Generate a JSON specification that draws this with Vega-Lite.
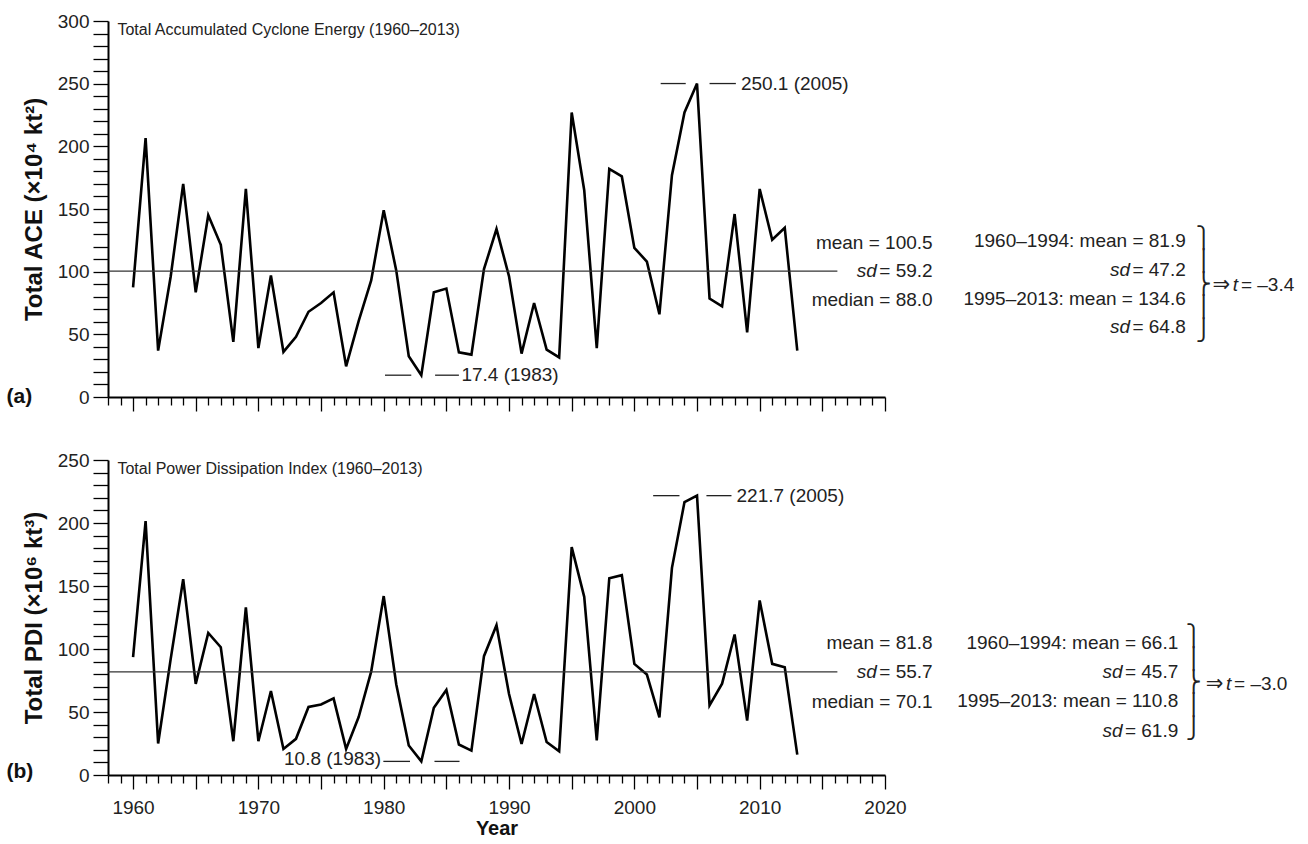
{
  "$schema": "https://vega.github.io/schema/vega-lite/v6.json",
  "padding": {"left": 6, "top": 12, "right": 4, "bottom": 4},
  "background": "white",
  "config": {
    "font": "'Liberation Sans', Arial, sans-serif",
    "view": {"stroke": null},
    "text": {"color": "#222", "fontSize": 19, "baseline": "middle"},
    "axis": {
      "domainColor": "black", "domainWidth": 2, "tickColor": "black", "tickWidth": 1.3,
      "labelColor": "#222", "labelFontSize": 19, "labelFont": "'Liberation Sans', Arial, sans-serif",
      "titleColor": "#111", "titleFont": "'Liberation Sans', Arial, sans-serif", "titleFontSize": 24, "titleFontWeight": "bold",
      "grid": false, "labelOverlap": false, "labelFlush": false, "labelBound": false, "tickCount": 200
    }
  },
  "datasets": {
    "ace": [
      {"year": 1960, "v": 87.5}, {"year": 1961, "v": 206.5}, {"year": 1962, "v": 37}, {"year": 1963, "v": 96},
      {"year": 1964, "v": 170}, {"year": 1965, "v": 83.5}, {"year": 1966, "v": 145}, {"year": 1967, "v": 121.5},
      {"year": 1968, "v": 44}, {"year": 1969, "v": 166}, {"year": 1970, "v": 39}, {"year": 1971, "v": 97},
      {"year": 1972, "v": 36}, {"year": 1973, "v": 48}, {"year": 1974, "v": 68}, {"year": 1975, "v": 75},
      {"year": 1976, "v": 83.5}, {"year": 1977, "v": 24.5}, {"year": 1978, "v": 60.5}, {"year": 1979, "v": 93},
      {"year": 1980, "v": 149}, {"year": 1981, "v": 101}, {"year": 1982, "v": 32.5}, {"year": 1983, "v": 17.4},
      {"year": 1984, "v": 83.5}, {"year": 1985, "v": 86.5}, {"year": 1986, "v": 35.6}, {"year": 1987, "v": 33.8},
      {"year": 1988, "v": 102}, {"year": 1989, "v": 134}, {"year": 1990, "v": 96.3}, {"year": 1991, "v": 34.6},
      {"year": 1992, "v": 75}, {"year": 1993, "v": 37.8}, {"year": 1994, "v": 31.6}, {"year": 1995, "v": 227},
      {"year": 1996, "v": 165}, {"year": 1997, "v": 39}, {"year": 1998, "v": 182}, {"year": 1999, "v": 176},
      {"year": 2000, "v": 119}, {"year": 2001, "v": 108}, {"year": 2002, "v": 66}, {"year": 2003, "v": 177},
      {"year": 2004, "v": 227}, {"year": 2005, "v": 250.1}, {"year": 2006, "v": 78.5}, {"year": 2007, "v": 72.3},
      {"year": 2008, "v": 146}, {"year": 2009, "v": 51.6}, {"year": 2010, "v": 166}, {"year": 2011, "v": 125.5},
      {"year": 2012, "v": 135}, {"year": 2013, "v": 37}
    ],
    "pdi": [
      {"year": 1960, "v": 93.5}, {"year": 1961, "v": 201.5}, {"year": 1962, "v": 25}, {"year": 1963, "v": 92},
      {"year": 1964, "v": 155.4}, {"year": 1965, "v": 72.3}, {"year": 1966, "v": 112.8}, {"year": 1967, "v": 101.4},
      {"year": 1968, "v": 26.8}, {"year": 1969, "v": 133}, {"year": 1970, "v": 26.8}, {"year": 1971, "v": 66.7},
      {"year": 1972, "v": 20.7}, {"year": 1973, "v": 28.7}, {"year": 1974, "v": 54}, {"year": 1975, "v": 56},
      {"year": 1976, "v": 60.8}, {"year": 1977, "v": 20.7}, {"year": 1978, "v": 46}, {"year": 1979, "v": 82},
      {"year": 1980, "v": 142}, {"year": 1981, "v": 72}, {"year": 1982, "v": 23.4}, {"year": 1983, "v": 10.8},
      {"year": 1984, "v": 53.4}, {"year": 1985, "v": 67.5}, {"year": 1986, "v": 24.2}, {"year": 1987, "v": 19.4},
      {"year": 1988, "v": 94.3}, {"year": 1989, "v": 118.9}, {"year": 1990, "v": 64.3}, {"year": 1991, "v": 24.6},
      {"year": 1992, "v": 64.3}, {"year": 1993, "v": 26.2}, {"year": 1994, "v": 18.8}, {"year": 1995, "v": 180.8},
      {"year": 1996, "v": 141.4}, {"year": 1997, "v": 27.5}, {"year": 1998, "v": 156.2}, {"year": 1999, "v": 158.6},
      {"year": 2000, "v": 88.2}, {"year": 2001, "v": 79.7}, {"year": 2002, "v": 45.8}, {"year": 2003, "v": 164.4},
      {"year": 2004, "v": 216.6}, {"year": 2005, "v": 221.7}, {"year": 2006, "v": 55.3}, {"year": 2007, "v": 72.5},
      {"year": 2008, "v": 111.5}, {"year": 2009, "v": 43.2}, {"year": 2010, "v": 138.5}, {"year": 2011, "v": 88.2},
      {"year": 2012, "v": 85.5}, {"year": 2013, "v": 16.2}
    ],
    "one": [{}]
  },
  "spacing": 39,
  "vconcat": [
    {
      "width": 777, "height": 376,
      "layer": [
        {
          "data": {"name": "ace"},
          "mark": {"type": "line", "color": "black", "strokeWidth": 2.6, "strokeJoin": "miter"},
          "encoding": {
            "x": {"field": "year", "type": "quantitative", "scale": {"domain": [1958, 2020], "nice": false, "zero": false},
              "axis": {"values": [1958,1959,1960,1961,1962,1963,1964,1965,1966,1967,1968,1969,1970,1971,1972,1973,1974,1975,1976,1977,1978,1979,1980,1981,1982,1983,1984,1985,1986,1987,1988,1989,1990,1991,1992,1993,1994,1995,1996,1997,1998,1999,2000,2001,2002,2003,2004,2005,2006,2007,2008,2009,2010,2011,2012,2013,2014,2015,2016,2017,2018,2019,2020],
                "tickCount": 200, "labels": false, "title": null,
                "tickSize": {"condition": {"test": "datum.value % 5 === 0", "value": 14}, "value": 8}}},
            "y": {"field": "v", "type": "quantitative", "scale": {"domain": [0, 300], "nice": false},
              "axis": {"values": [0,10,20,30,40,50,60,70,80,90,100,110,120,130,140,150,160,170,180,190,200,210,220,230,240,250,260,270,280,290,300],
                "tickCount": 200, "labelExpr": "datum.value % 50 === 0 ? datum.label : ''", "tickSize": 15, "labelPadding": 4,
                "title": "Total ACE (×10⁴ kt²)", "titlePadding": 11}}
          }
        },
        {"data": {"name": "one"}, "mark": {"type": "rule", "color": "#333", "strokeWidth": 1.3},
          "encoding": {"x": {"datum": 1958}, "x2": {"datum": 2016.2}, "y": {"datum": 100.5}}},
        {"data": {"name": "one"}, "mark": {"type": "rule", "color": "#222", "strokeWidth": 1.3},
          "encoding": {"x": {"datum": 2002.1}, "x2": {"datum": 2004.1}, "y": {"datum": 250.1}}},
        {"data": {"name": "one"}, "mark": {"type": "rule", "color": "#222", "strokeWidth": 1.3},
          "encoding": {"x": {"datum": 2006.0}, "x2": {"datum": 2008.1}, "y": {"datum": 250.1}}},
        {"data": {"name": "one"}, "mark": {"type": "rule", "color": "#222", "strokeWidth": 1.3},
          "encoding": {"x": {"datum": 1980.1}, "x2": {"datum": 1982.2}, "y": {"datum": 17.4}}},
        {"data": {"name": "one"}, "mark": {"type": "rule", "color": "#222", "strokeWidth": 1.3},
          "encoding": {"x": {"datum": 1984.1}, "x2": {"datum": 1986.0}, "y": {"datum": 17.4}}},
        {"data": {"name": "one"}, "mark": {"type": "text", "text": "250.1 (2005)", "align": "left"},
          "encoding": {"x": {"datum": 2008.5}, "y": {"datum": 250.1}}},
        {"data": {"name": "one"}, "mark": {"type": "text", "text": "17.4 (1983)", "align": "left"},
          "encoding": {"x": {"datum": 1986.2}, "y": {"datum": 17.4}}},
        {"data": {"name": "one"}, "mark": {"type": "text", "text": "Total Accumulated Cyclone Energy (1960–2013)", "align": "left", "fontSize": 16},
          "encoding": {"x": {"datum": 1958.75}, "y": {"datum": 293.2}}},
        {"data": {"name": "one"}, "mark": {"type": "text", "text": "(a)", "align": "left", "fontSize": 21, "fontWeight": "bold", "color": "#111"},
          "encoding": {"x": {"datum": 1949.9}, "y": {"datum": 0}}},
        {"data": {"name": "one"}, "mark": {"type": "text", "text": "mean = 100.5", "align": "right"},
          "encoding": {"x": {"datum": 2023.8}, "y": {"datum": 123.2}}},
        {"data": {"name": "one"}, "mark": {"type": "text", "text": "= 59.2", "align": "right"},
          "encoding": {"x": {"datum": 2023.8}, "y": {"datum": 100.8}}},
        {"data": {"name": "one"}, "mark": {"type": "text", "text": "sd", "align": "right", "fontStyle": "italic"},
          "encoding": {"x": {"datum": 2019.35}, "y": {"datum": 100.8}}},
        {"data": {"name": "one"}, "mark": {"type": "text", "text": "median = 88.0", "align": "right"},
          "encoding": {"x": {"datum": 2023.8}, "y": {"datum": 77.7}}},
        {"data": {"name": "one"}, "mark": {"type": "text", "text": "1960–1994: mean = 81.9", "align": "right"},
          "encoding": {"x": {"datum": 2044.0}, "y": {"datum": 124.5}}},
        {"data": {"name": "one"}, "mark": {"type": "text", "text": "= 47.2", "align": "right"},
          "encoding": {"x": {"datum": 2044.0}, "y": {"datum": 101.5}}},
        {"data": {"name": "one"}, "mark": {"type": "text", "text": "sd", "align": "right", "fontStyle": "italic"},
          "encoding": {"x": {"datum": 2039.55}, "y": {"datum": 101.5}}},
        {"data": {"name": "one"}, "mark": {"type": "text", "text": "1995–2013: mean = 134.6", "align": "right"},
          "encoding": {"x": {"datum": 2044.0}, "y": {"datum": 78.5}}},
        {"data": {"name": "one"}, "mark": {"type": "text", "text": "= 64.8", "align": "right"},
          "encoding": {"x": {"datum": 2044.0}, "y": {"datum": 55.5}}},
        {"data": {"name": "one"}, "mark": {"type": "text", "text": "sd", "align": "right", "fontStyle": "italic"},
          "encoding": {"x": {"datum": 2039.55}, "y": {"datum": 55.5}}},
        {"data": {"name": "one"}, "mark": {"type": "text", "text": ["⎫", "⎪", "⎬", "⎪", "⎭"], "align": "left", "font": "DejaVu Sans", "fontSize": 21, "lineHeight": 23},
          "encoding": {"x": {"datum": 2044.8}, "y": {"datum": 126.0}}},
        {"data": {"name": "one"}, "mark": {"type": "text", "text": "⇒", "align": "left", "font": "DejaVu Sans", "fontSize": 21},
          "encoding": {"x": {"datum": 2046.14}, "y": {"datum": 89.5}}},
        {"data": {"name": "one"}, "mark": {"type": "text", "text": "t", "align": "left", "fontStyle": "italic"},
          "encoding": {"x": {"datum": 2047.74}, "y": {"datum": 89.5}}},
        {"data": {"name": "one"}, "mark": {"type": "text", "text": "= –3.4", "align": "left"},
          "encoding": {"x": {"datum": 2048.4}, "y": {"datum": 89.5}}}
      ]
    },
    {
      "width": 777, "height": 315,
      "layer": [
        {
          "data": {"name": "pdi"},
          "mark": {"type": "line", "color": "black", "strokeWidth": 2.6, "strokeJoin": "miter"},
          "encoding": {
            "x": {"field": "year", "type": "quantitative", "scale": {"domain": [1958, 2020], "nice": false, "zero": false},
              "axis": {"values": [1958,1959,1960,1961,1962,1963,1964,1965,1966,1967,1968,1969,1970,1971,1972,1973,1974,1975,1976,1977,1978,1979,1980,1981,1982,1983,1984,1985,1986,1987,1988,1989,1990,1991,1992,1993,1994,1995,1996,1997,1998,1999,2000,2001,2002,2003,2004,2005,2006,2007,2008,2009,2010,2011,2012,2013,2014,2015,2016,2017,2018,2019,2020],
                "tickCount": 200, "labelExpr": "datum.value % 10 === 0 ? datum.label : ''", "format": "d", "labelPadding": 9,
                "title": "Year", "titlePadding": 1, "titleFontSize": 20,
                "tickSize": {"condition": {"test": "datum.value % 5 === 0", "value": 14}, "value": 8}}},
            "y": {"field": "v", "type": "quantitative", "scale": {"domain": [0, 250], "nice": false},
              "axis": {"values": [0,10,20,30,40,50,60,70,80,90,100,110,120,130,140,150,160,170,180,190,200,210,220,230,240,250],
                "tickCount": 200, "labelExpr": "datum.value % 50 === 0 ? datum.label : ''", "tickSize": 15, "labelPadding": 4,
                "title": "Total PDI (×10⁶ kt³)", "titlePadding": 11}}
          }
        },
        {"data": {"name": "one"}, "mark": {"type": "rule", "color": "#333", "strokeWidth": 1.3},
          "encoding": {"x": {"datum": 1958}, "x2": {"datum": 2016.2}, "y": {"datum": 81.8}}},
        {"data": {"name": "one"}, "mark": {"type": "rule", "color": "#222", "strokeWidth": 1.3},
          "encoding": {"x": {"datum": 2001.5}, "x2": {"datum": 2003.6}, "y": {"datum": 221.7}}},
        {"data": {"name": "one"}, "mark": {"type": "rule", "color": "#222", "strokeWidth": 1.3},
          "encoding": {"x": {"datum": 2005.75}, "x2": {"datum": 2007.75}, "y": {"datum": 221.7}}},
        {"data": {"name": "one"}, "mark": {"type": "rule", "color": "#222", "strokeWidth": 1.3},
          "encoding": {"x": {"datum": 1979.97}, "x2": {"datum": 1982.1}, "y": {"datum": 10.8}}},
        {"data": {"name": "one"}, "mark": {"type": "rule", "color": "#222", "strokeWidth": 1.3},
          "encoding": {"x": {"datum": 1984.05}, "x2": {"datum": 1986.05}, "y": {"datum": 10.8}}},
        {"data": {"name": "one"}, "mark": {"type": "text", "text": "221.7 (2005)", "align": "left"},
          "encoding": {"x": {"datum": 2008.15}, "y": {"datum": 221.7}}},
        {"data": {"name": "one"}, "mark": {"type": "text", "text": "10.8 (1983)", "align": "right"},
          "encoding": {"x": {"datum": 1979.8}, "y": {"datum": 12.5}}},
        {"data": {"name": "one"}, "mark": {"type": "text", "text": "Total Power Dissipation Index (1960–2013)", "align": "left", "fontSize": 16},
          "encoding": {"x": {"datum": 1958.75}, "y": {"datum": 242.5}}},
        {"data": {"name": "one"}, "mark": {"type": "text", "text": "(b)", "align": "left", "fontSize": 21, "fontWeight": "bold", "color": "#111"},
          "encoding": {"x": {"datum": 1949.9}, "y": {"datum": 2}}},
        {"data": {"name": "one"}, "mark": {"type": "text", "text": "mean = 81.8", "align": "right"},
          "encoding": {"x": {"datum": 2023.8}, "y": {"datum": 104.8}}},
        {"data": {"name": "one"}, "mark": {"type": "text", "text": "= 55.7", "align": "right"},
          "encoding": {"x": {"datum": 2023.8}, "y": {"datum": 81.8}}},
        {"data": {"name": "one"}, "mark": {"type": "text", "text": "sd", "align": "right", "fontStyle": "italic"},
          "encoding": {"x": {"datum": 2019.35}, "y": {"datum": 81.8}}},
        {"data": {"name": "one"}, "mark": {"type": "text", "text": "median = 70.1", "align": "right"},
          "encoding": {"x": {"datum": 2023.8}, "y": {"datum": 58}}},
        {"data": {"name": "one"}, "mark": {"type": "text", "text": "1960–1994: mean = 66.1", "align": "right"},
          "encoding": {"x": {"datum": 2043.4}, "y": {"datum": 105}}},
        {"data": {"name": "one"}, "mark": {"type": "text", "text": "= 45.7", "align": "right"},
          "encoding": {"x": {"datum": 2043.4}, "y": {"datum": 82}}},
        {"data": {"name": "one"}, "mark": {"type": "text", "text": "sd", "align": "right", "fontStyle": "italic"},
          "encoding": {"x": {"datum": 2038.95}, "y": {"datum": 82}}},
        {"data": {"name": "one"}, "mark": {"type": "text", "text": "1995–2013: mean = 110.8", "align": "right"},
          "encoding": {"x": {"datum": 2043.4}, "y": {"datum": 58.5}}},
        {"data": {"name": "one"}, "mark": {"type": "text", "text": "= 61.9", "align": "right"},
          "encoding": {"x": {"datum": 2043.4}, "y": {"datum": 35}}},
        {"data": {"name": "one"}, "mark": {"type": "text", "text": "sd", "align": "right", "fontStyle": "italic"},
          "encoding": {"x": {"datum": 2038.95}, "y": {"datum": 35}}},
        {"data": {"name": "one"}, "mark": {"type": "text", "text": ["⎫", "⎪", "⎬", "⎪", "⎭"], "align": "left", "font": "DejaVu Sans", "fontSize": 21, "lineHeight": 23},
          "encoding": {"x": {"datum": 2044.0}, "y": {"datum": 109.6}}},
        {"data": {"name": "one"}, "mark": {"type": "text", "text": "⇒", "align": "left", "font": "DejaVu Sans", "fontSize": 21},
          "encoding": {"x": {"datum": 2045.6}, "y": {"datum": 72}}},
        {"data": {"name": "one"}, "mark": {"type": "text", "text": "t", "align": "left", "fontStyle": "italic"},
          "encoding": {"x": {"datum": 2047.2}, "y": {"datum": 72}}},
        {"data": {"name": "one"}, "mark": {"type": "text", "text": "= –3.0", "align": "left"},
          "encoding": {"x": {"datum": 2047.85}, "y": {"datum": 72}}}
      ]
    }
  ]
}
